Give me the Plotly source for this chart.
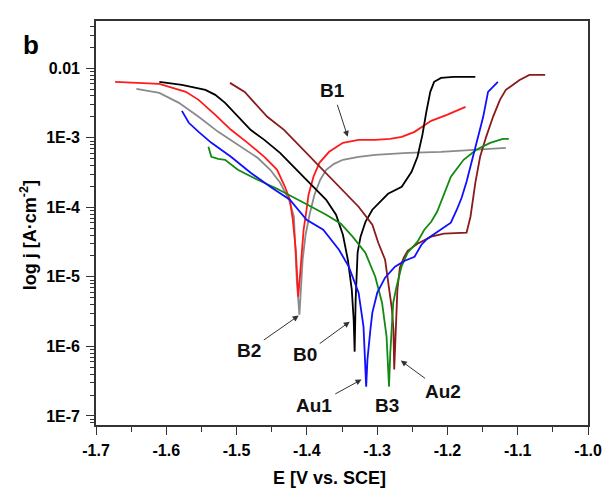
import numpy as np
import plotly.graph_objects as go

# Potentiodynamic polarisation curves: potential E (V vs. SCE) and log10 of current density j (A/cm^2)

b0_E = [-1.6099, -1.5778, -1.5443, -1.5303, -1.5163, -1.4982, -1.4801, -1.4605, -1.4382, -1.4145,
        -1.3963, -1.3725, -1.3585, -1.3487, -1.3417, -1.3361, -1.3334, -1.3320,
        -1.3306, -1.3292, -1.3278, -1.3236, -1.3166, -1.3068, -1.2957, -1.2845, -1.2650, -1.2510,
        -1.2426, -1.2356, -1.2300, -1.2244, -1.2189, -1.2091, -1.1910, -1.1603]
b0_logj = [-2.195, -2.239, -2.310, -2.382, -2.497, -2.698, -2.885, -3.029, -3.216, -3.460,
           -3.647, -3.891, -4.106, -4.394, -4.753, -5.184, -5.615, -6.075,
           -5.328, -4.897, -4.652, -4.422, -4.207, -4.034, -3.920, -3.805, -3.704, -3.489,
           -3.273, -2.957, -2.626, -2.339, -2.195, -2.138, -2.124, -2.124]

b1_E = [-1.6728, -1.6099, -1.5722, -1.5540, -1.5303, -1.5080, -1.4842, -1.4605, -1.4423, -1.4312,
        -1.4242, -1.4200, -1.4158, -1.4137, -1.4123,
        -1.4102, -1.4074, -1.4046, -1.4004, -1.3976, -1.3906, -1.3822, -1.3683, -1.3487, -1.3264,
        -1.3027, -1.2817, -1.2650, -1.2468, -1.2231, -1.2008, -1.1742]
b1_logj = [-2.195, -2.224, -2.339, -2.454, -2.670, -2.885, -3.072, -3.273, -3.460, -3.704,
           -3.891, -4.178, -4.609, -4.968, -5.284,
           -5.040, -4.609, -4.322, -4.034, -3.819, -3.560, -3.359, -3.201, -3.072, -3.029,
           -3.029, -3.014, -2.986, -2.914, -2.756, -2.670, -2.555]

b2_E = [-1.6425, -1.6099, -1.5820, -1.5540, -1.5261, -1.4980, -1.4701, -1.4521, -1.4380, -1.4254,
        -1.4184, -1.4165, -1.4144, -1.4106,
        -1.4088, -1.4060, -1.4018, -1.3962, -1.3892, -1.3809, -1.3725, -1.3613, -1.3487, -1.3264,
        -1.3027, -1.2566, -1.2091, -1.1672, -1.1351, -1.1169]
b2_logj = [-2.296, -2.353, -2.497, -2.698, -2.914, -3.101, -3.287, -3.460, -3.647, -3.891,
           -4.135, -4.566, -5.040, -5.543,
           -5.184, -4.753, -4.394, -4.106, -3.819, -3.603, -3.460, -3.374, -3.316, -3.273,
           -3.244, -3.216, -3.201, -3.172, -3.158, -3.144]

b3_E = [-1.5401, -1.5359, -1.5261, -1.5163, -1.4982, -1.4702, -1.4423, -1.4144, -1.3963, -1.3725,
        -1.3516, -1.3349, -1.3168, -1.3027, -1.2930, -1.2866, -1.2831,
        -1.2813, -1.2789, -1.2771, -1.2724, -1.2654, -1.2566, -1.2426, -1.2329, -1.2231, -1.2147,
        -1.2063, -1.1951, -1.1770, -1.1589, -1.1392, -1.1211, -1.1127]
b3_logj = [-3.129, -3.273, -3.302, -3.316, -3.460, -3.603, -3.733, -3.876, -3.977, -4.106,
           -4.236, -4.422, -4.652, -4.997, -5.371, -5.859, -6.578,
           -6.089, -5.615, -5.371, -5.141, -4.853, -4.652, -4.494, -4.322, -4.207, -4.063,
           -3.848, -3.560, -3.316, -3.172, -3.072, -3.014, -3.014]

au1_E = [-1.5778, -1.5680, -1.5540, -1.5358, -1.5080, -1.4800, -1.4520, -1.4242, -1.4004, -1.3767,
         -1.3543, -1.3404, -1.3264, -1.3194, -1.3156,
         -1.3138, -1.3096, -1.3068, -1.2998, -1.2887, -1.2747, -1.2607, -1.2468, -1.2370, -1.2286,
         -1.2091, -1.1951, -1.1867, -1.1798, -1.1728, -1.1672, -1.1589, -1.1491, -1.1422, -1.1282]
au1_logj = [-2.612, -2.784, -2.914, -3.072, -3.273, -3.503, -3.704, -3.891, -4.178, -4.322,
            -4.609, -4.853, -5.227, -5.716, -6.578,
            -6.190, -5.759, -5.514, -5.227, -5.011, -4.853, -4.767, -4.710, -4.537, -4.451,
            -4.322, -4.221, -4.034, -3.862, -3.632, -3.417, -3.072, -2.698, -2.339, -2.195]

au2_E = [-1.5094, -1.4884, -1.4744, -1.4563, -1.4325, -1.4144, -1.4046, -1.3725, -1.3487, -1.3264,
         -1.3068, -1.2984, -1.2887, -1.2831, -1.2789, -1.2768, -1.2757,
         -1.2740, -1.2726, -1.2712, -1.2677, -1.2621, -1.2566, -1.2426, -1.2231, -1.2049, -1.1728,
         -1.1672, -1.1603, -1.1535, -1.1449, -1.1351, -1.1253, -1.1169, -1.0973, -1.0834, -1.0610]
au2_logj = [-2.210, -2.339, -2.497, -2.698, -2.885, -3.072, -3.172, -3.503, -3.747, -3.991,
            -4.250, -4.509, -4.753, -5.184, -5.471, -5.759, -6.333,
            -5.902, -5.471, -5.184, -4.868, -4.724, -4.624, -4.523, -4.422, -4.379, -4.365,
            -4.135, -3.647, -3.273, -2.986, -2.698, -2.454, -2.310, -2.167, -2.095, -2.095]

series = [
    ("B2", b2_E, b2_logj, "#8a8a8a"),
    ("B1", b1_E, b1_logj, "#ff1a1a"),
    ("B0", b0_E, b0_logj, "#000000"),
    ("Au2", au2_E, au2_logj, "#8b1a1a"),
    ("B3", b3_E, b3_logj, "#138a13"),
    ("Au1", au1_E, au1_logj, "#1010ff"),
]

# Curve labels: text centre (x, log10 y); arrow head (x, log10 y) or None for no pointer
label_text = ["B1", "B2", "B0", "Au1", "B3", "Au2"]
label_x = [-1.3631, -1.4828, -1.4032, -1.3899, -1.2863, -1.2063]
label_y = [-2.325, -6.060, -6.118, -6.851, -6.851, -6.649]
arrow_head_x = [-1.3418, -1.4116, -1.3390, -1.3222, None, -1.2663]
arrow_head_y = [-2.986, -5.557, -5.644, -6.477, None, -6.204]

x_ticks = [-1.7, -1.6, -1.5, -1.4, -1.3, -1.2, -1.1, -1.0]
x_ticktext = ["-1.7", "-1.6", "-1.5", "-1.4", "-1.3", "-1.2", "-1.1", "-1.0"]
y_ticks = [1e-7, 1e-6, 1e-5, 1e-4, 1e-3, 1e-2]
y_ticktext = ["1E-7", "1E-6", "1E-5", "1E-4", "1E-3", "0.01"]

FONT = "Liberation Sans, Arial, sans-serif"
AX_COL = "#333333"

fig = go.Figure()
for name, e, lj, col in series:
    fig.add_trace(go.Scatter(
        x=e, y=10 ** np.array(lj), mode="lines", name=name,
        line=dict(color=col, width=1.8), showlegend=False,
    ))

for t, x, y, hx, hy in zip(label_text, label_x, label_y, arrow_head_x, arrow_head_y):
    font = dict(family=FONT, size=19, color="#111111")
    if hx is None:
        fig.add_annotation(x=x, y=y, xref="x", yref="y", text=f"<b>{t}</b>", showarrow=False,
                           xanchor="center", yanchor="middle", font=font)
    else:
        # text sits at (ax, ay); the pointer runs from the text box to the head at (x, y)
        fig.add_annotation(x=hx, y=hy, ax=x, ay=y, xref="x", yref="y", axref="x", ayref="y",
                           text=f"<b>{t}</b>", showarrow=True, arrowhead=2, arrowsize=1.2,
                           arrowwidth=1, arrowcolor=AX_COL, standoff=0, startstandoff=2,
                           font=font)

# Panel letter and axis titles
fig.add_annotation(x=-0.132, y=0.94, xref="paper", yref="paper", text="<b>b</b>", showarrow=False,
                   xanchor="center", yanchor="middle",
                   font=dict(family=FONT, size=26, color="black"))
fig.add_annotation(x=0.475, y=-0.131, xref="paper", yref="paper", text="<b>E [V vs. SCE]</b>",
                   showarrow=False, xanchor="center", yanchor="middle",
                   font=dict(family=FONT, size=18, color="black"))
fig.add_annotation(x=-0.138, y=0.47, xref="paper", yref="paper", textangle=-90,
                   text="<b>log j [A·cm<sup>-2</sup>]</b>", xanchor="center", yanchor="middle",
                   showarrow=False, font=dict(family=FONT, size=18, color="black"))

minor_y = [m * 10.0 ** k for k in range(-8, -1) for m in range(2, 10)]

fig.update_layout(
    width=614, height=489,
    margin=dict(l=96, r=17, t=21, b=64),
    paper_bgcolor="white", plot_bgcolor="white",
    font=dict(family=FONT, size=16, color="black"),
    xaxis=dict(
        range=[-1.7, -1.0], tickvals=x_ticks, ticktext=[f"<b>{t}</b>" for t in x_ticktext],
        ticks="outside", ticklen=8, tickwidth=1.4, tickcolor=AX_COL, ticklabelstandoff=2,
        showline=True, linewidth=1.6, linecolor=AX_COL, mirror=True,
        showgrid=False, zeroline=False,
        minor=dict(dtick=0.05, ticks="outside", ticklen=5, tickwidth=1.3, tickcolor=AX_COL,
                   showgrid=False),
        tickfont=dict(family=FONT, size=16, color="black"),
    ),
    yaxis=dict(
        type="log", range=[-7.13, -1.32], tickvals=y_ticks,
        ticktext=[f"<b>{t}</b>" for t in y_ticktext],
        ticks="outside", ticklen=8, tickwidth=1.4, tickcolor=AX_COL, ticklabelstandoff=3,
        showline=True, linewidth=1.6, linecolor=AX_COL, mirror=True,
        showgrid=False, zeroline=False,
        minor=dict(tickvals=minor_y, ticks="outside", ticklen=4.5, tickwidth=1.1,
                   tickcolor=AX_COL, showgrid=False),
        tickfont=dict(family=FONT, size=16, color="black"),
    ),
)

fig.write_html("out.html")
